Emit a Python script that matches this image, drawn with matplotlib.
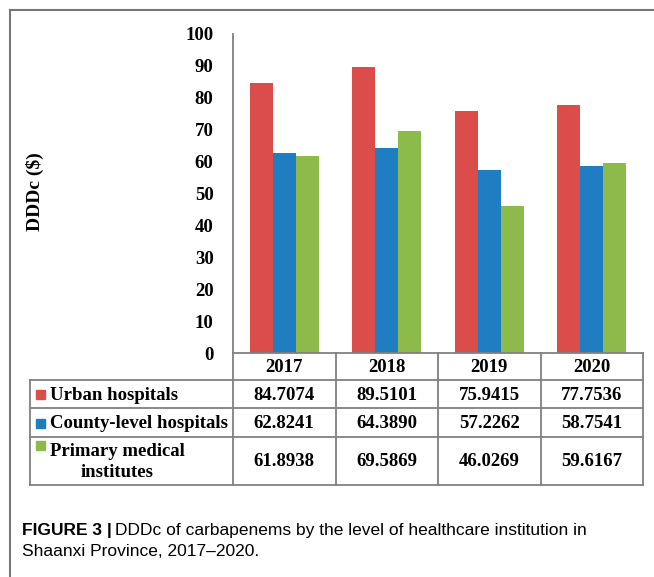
import matplotlib.pyplot as plt
import numpy as np
from matplotlib.lines import Line2D

# Datos
years = ['2017', '2018', '2019', '2020']
series = ['Urban hospitals', 'County-level hospitals', 'Primary medical\ninstitutes']
urban = [84.7074, 89.5101, 75.9415, 77.7536]
county = [62.8241, 64.3890, 57.2262, 58.7541]
primary = [61.8938, 69.5869, 46.0269, 59.6167]
values = [urban, county, primary]
colors = ['#DA4D4A', '#1F7DC1', '#8DBB4B']

W, H = 654, 577
fig = plt.figure(figsize=(W / 100, H / 100), dpi=100)
serif = 'Liberation Serif'
gray = '#808080'
fs = 13.5

def fx(px):
    return px / W

def fy(py):
    return 1 - py / H

# Marco de la figura
fig.add_artist(Line2D([fx(10), 1], [fy(10), fy(10)], color='#777777', lw=1.5))
fig.add_artist(Line2D([fx(10), fx(10)], [fy(10), 0], color='#777777', lw=1.5))

# Grafico de barras
x0, x1, ytop, ybot = 233, 643, 34, 353
ax = fig.add_axes([fx(x0), fy(ybot), (x1 - x0) / W, (ybot - ytop) / H])
x = np.arange(len(years))
bw = 0.224
for i, vals in enumerate(values):
    ax.bar(x + (i - 1) * bw, vals, width=bw, color=colors[i])
ax.set_xlim(-0.5, 3.5)
ax.set_ylim(0, 100)
ax.set_yticks(range(0, 101, 10))
ax.set_yticklabels([str(v) for v in range(0, 101, 10)], fontfamily=serif,
                   fontweight='bold', fontsize=fs)
ax.tick_params(axis='y', length=0, pad=14)
ax.set_xticks([])
for s in ['top', 'right', 'bottom']:
    ax.spines[s].set_visible(False)
ax.spines['left'].set_color(gray)
ax.spines['left'].set_linewidth(1.3)

fig.text(fx(35), fy(192), 'DDDc ($)', rotation=90, ha='center', va='center',
         fontfamily=serif, fontweight='bold', fontsize=14)

# Tabla de datos
tab = fig.add_axes([0, 0, 1, 1])
tab.set_xlim(0, W)
tab.set_ylim(H, 0)
tab.axis('off')
cols = np.linspace(x0, x1, len(years) + 1)
rows = [353, 380, 408, 437, 485]
lw = 1.3
# encabezado
tab.plot([x0, x1], [rows[0], rows[0]], color=gray, lw=lw)
for cx in cols:
    tab.plot([cx, cx], [rows[0], rows[-1]], color=gray, lw=lw)
for ry in rows[1:]:
    tab.plot([30, x1], [ry, ry], color=gray, lw=lw)
tab.plot([30, 30], [rows[1], rows[-1]], color=gray, lw=lw)

for j, yr in enumerate(years):
    tab.text((cols[j] + cols[j + 1]) / 2, (rows[0] + rows[1]) / 2 + 1, yr,
             ha='center', va='center', fontfamily=serif, fontweight='bold', fontsize=fs)

for i, vals in enumerate(values):
    yc = (rows[i + 1] + rows[i + 2]) / 2 + 1
    for j, v in enumerate(vals):
        tab.text((cols[j] + cols[j + 1]) / 2, yc, f'{v:.4f}', ha='center', va='center',
                 fontfamily=serif, fontweight='bold', fontsize=fs)
    if i < 2:
        sy = yc
        tab.text(50, yc, series[i], ha='left', va='center', fontfamily=serif,
                 fontweight='bold', fontsize=fs)
    else:
        sy = rows[i + 1] + 9
        tab.text(50, yc, series[i], ha='left', va='center', multialignment='center',
                 fontfamily=serif, fontweight='bold', fontsize=fs, linespacing=1.25)
    tab.add_patch(plt.Rectangle((36, sy - 5), 9, 9, color=colors[i]))

# Pie de figura
cap_font = ['Liberation Sans Narrow', 'Liberation Sans']
cap_fs = 12.5
t1 = fig.text(fx(22), fy(531), 'FIGURE 3 |', ha='left', va='center', fontweight='bold',
              fontfamily=cap_font, fontsize=cap_fs)
fig.canvas.draw()
bb = t1.get_window_extent()
fig.text(bb.x1 / W + fx(3), fy(531),
         'DDDc of carbapenems by the level of healthcare institution in',
         ha='left', va='center', fontfamily=cap_font, fontsize=cap_fs)
fig.text(fx(22), fy(552), 'Shaanxi Province, 2017\u20132020.', ha='left', va='center',
         fontfamily=cap_font, fontsize=cap_fs)

fig.savefig('out.png', dpi=100)
